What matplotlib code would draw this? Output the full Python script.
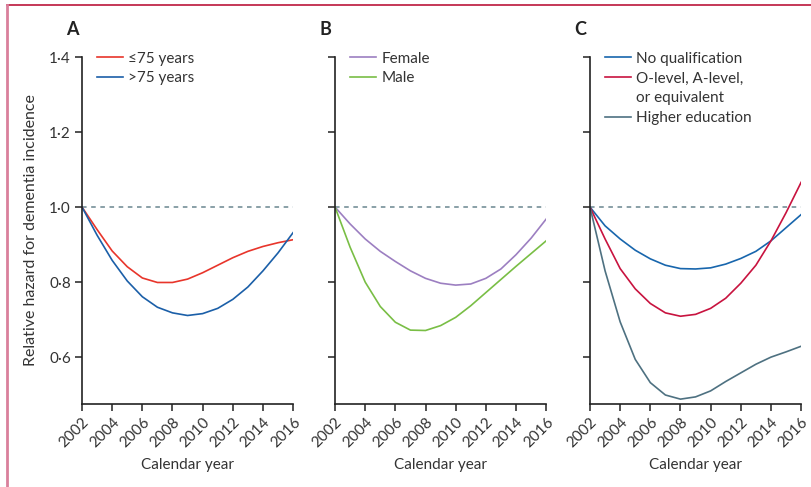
import matplotlib
matplotlib.use("Agg")
import matplotlib.pyplot as plt
from matplotlib.lines import Line2D

plt.rcParams['font.family'] = ['Lato', 'DejaVu Sans']

years = list(range(2002, 2017))
year_ticks = list(range(2002, 2017, 2))

# panel A: age
age_le75 = [1.0, 0.94, 0.883, 0.841, 0.811, 0.799, 0.799, 0.808, 0.825, 0.845, 0.865, 0.882, 0.895, 0.905, 0.913]
age_gt75 = [1.0, 0.925, 0.858, 0.803, 0.761, 0.733, 0.718, 0.711, 0.716, 0.730, 0.754, 0.787, 0.830, 0.878, 0.932]

# panel B: sex
female = [1.0, 0.955, 0.915, 0.882, 0.855, 0.830, 0.810, 0.797, 0.792, 0.795, 0.810, 0.835, 0.873, 0.917, 0.968]
male = [1.0, 0.893, 0.800, 0.735, 0.693, 0.672, 0.671, 0.684, 0.706, 0.737, 0.772, 0.807, 0.842, 0.876, 0.910]

# panel C: education
no_qual = [1.0, 0.950, 0.915, 0.885, 0.862, 0.845, 0.836, 0.835, 0.838, 0.848, 0.863, 0.882, 0.910, 0.945, 0.980]
olevel = [1.0, 0.915, 0.836, 0.782, 0.743, 0.718, 0.709, 0.714, 0.730, 0.757, 0.797, 0.845, 0.910, 0.985, 1.066]
higher = [1.0, 0.830, 0.694, 0.594, 0.532, 0.499, 0.488, 0.494, 0.510, 0.535, 0.558, 0.581, 0.600, 0.614, 0.629]

panels = [
    ("A", [(age_le75, "#e8352b", "\u226475 years"), (age_gt75, "#1b5fa8", ">75 years")]),
    ("B", [(female, "#9c7fc1", "Female"), (male, "#79be45", "Male")]),
    ("C", [(no_qual, "#1866ad", "No qualification"),
           (olevel, "#c8133f", "O-level, A-level,\nor equivalent"),
           (higher, "#4e7181", "Higher education")]),
]

fig = plt.figure(figsize=(8.12, 4.87), dpi=100)
lefts = [0.101, 0.4126, 0.7266]
txt = "#333333"

for i, (label, series) in enumerate(panels):
    ax = fig.add_axes([lefts[i], 0.1704, 0.260, 0.7125])
    ax.axhline(1.0, color="#6a8690", lw=1.1, ls=(0, (3, 3)), zorder=1)
    handles, names = [], []
    for vals, col, name in series:
        ln, = ax.plot(years, vals, color=col, lw=1.2, zorder=2)
        # wrapped labels: the handle sits on the first line only
        parts = name.split("\n")
        handles.append(ln)
        names.append(parts[0])
        for extra in parts[1:]:
            handles.append(Line2D([], [], color="none"))
            names.append(extra)
    ax.set_xlim(2002, 2016)
    ax.set_ylim(0.475, 1.4)
    ax.set_yticks([0.6, 0.8, 1.0, 1.2, 1.4])
    ax.set_xticks(year_ticks)
    ax.set_xticklabels([str(y) for y in year_ticks], rotation=45, ha="right",
                       rotation_mode="anchor", fontsize=11, color=txt)
    if i == 0:
        ax.set_yticklabels(["0\u00b76", "0\u00b78", "1\u00b70", "1\u00b72", "1\u00b74"], fontsize=11, color=txt)
        ax.set_ylabel("Relative hazard for dementia incidence", fontsize=11.5, color=txt, labelpad=8)
    else:
        ax.set_yticklabels([])
    ax.tick_params(direction="out", length=5, width=1.1, color="#222222", pad=3)
    for s in ["top", "right"]:
        ax.spines[s].set_visible(False)
    for s in ["left", "bottom"]:
        ax.spines[s].set_linewidth(1.2)
        ax.spines[s].set_color("#222222")
    ax.set_xlabel("Calendar year", fontsize=11, color=txt, labelpad=6)
    ax.legend(handles, names, loc="upper left", bbox_to_anchor=(0.005, 1.055), frameon=False,
              fontsize=11, handlelength=1.7, handletextpad=0.35, labelspacing=0.38, labelcolor=txt)
    ax.text(-0.075, 1.08, label, transform=ax.transAxes, fontsize=13, fontweight="bold",
            color="#222222", va="center", ha="left")

# page frame
fig.add_artist(Line2D([0.0086, 1.0], [0.9897, 0.9897], transform=fig.transFigure, color="#c0284a", lw=1.3))
fig.add_artist(Line2D([0.0086, 0.0086], [0.0, 0.9897], transform=fig.transFigure, color="#d9809c", lw=2))

fig.savefig("out.png", dpi=100)
